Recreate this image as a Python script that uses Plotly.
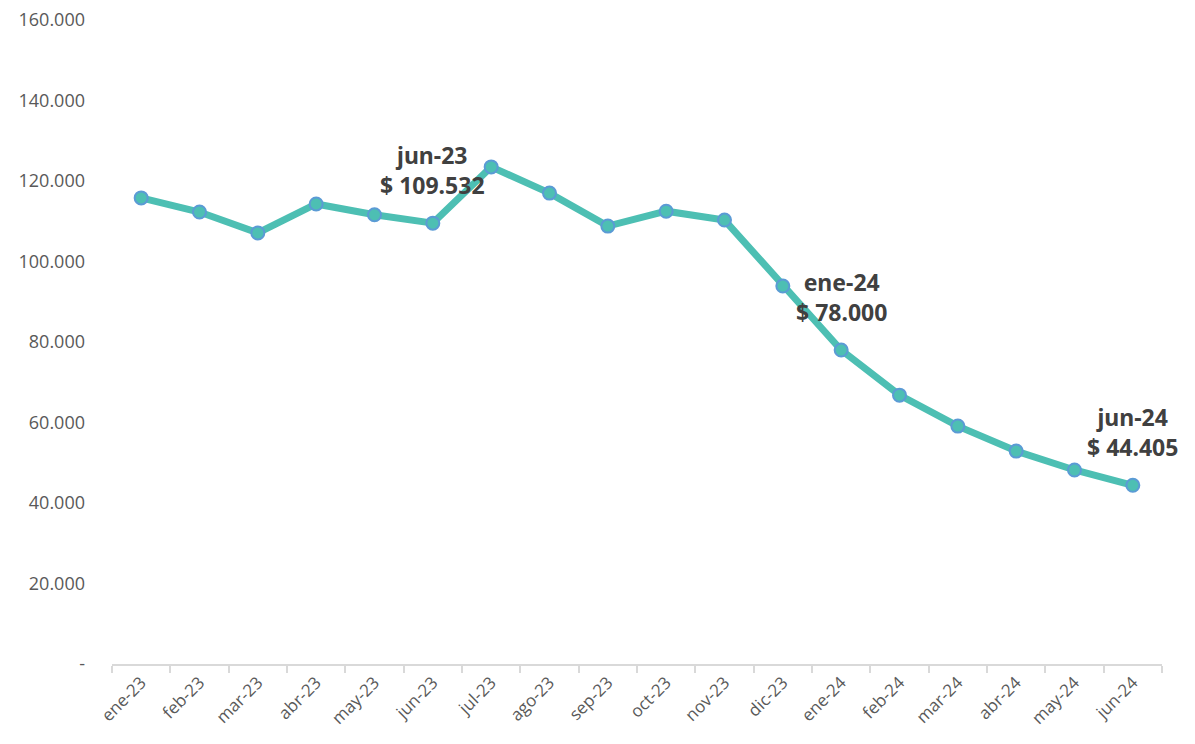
import plotly.graph_objects as go

months = ["ene-23", "feb-23", "mar-23", "abr-23", "may-23", "jun-23", "jul-23", "ago-23",
          "sep-23", "oct-23", "nov-23", "dic-23", "ene-24", "feb-24", "mar-24", "abr-24",
          "may-24", "jun-24"]
values = [115800, 112300, 107100, 114300, 111600, 109532, 123500, 117000,
          108800, 112500, 110300, 93900, 78000, 66800, 59100, 52900,
          48200, 44405]
y_ticks = [0, 20000, 40000, 60000, 80000, 100000, 120000, 140000, 160000]
y_tick_text = ["-", "20.000", "40.000", "60.000", "80.000", "100.000", "120.000", "140.000", "160.000"]
labels = [("jun-23", 109532, "jun-23", "$ 109.532"),
          ("ene-24", 78000, "ene-24", "$ 78.000"),
          ("jun-24", 44405, "jun-24", "$ 44.405")]

fig = go.Figure()
fig.add_trace(go.Scatter(
    x=months, y=values, mode="lines+markers",
    line=dict(color="#4DBFB3", width=7),
    marker=dict(size=13, color="#4DBFB3", line=dict(color="#5B9BD5", width=2)),
    showlegend=False, hoverinfo="x+y",
))

for m, v, t1, t2 in labels:
    fig.add_annotation(x=m, y=v, text="<b>" + t1 + "</b><br><b>" + t2 + "</b>",
                       showarrow=False, yanchor="bottom", yshift=20,
                       font=dict(family="Noto Sans", size=23, color="#404040"),
                       align="center")

fig.update_layout(
    width=1195, height=744,
    margin=dict(l=104, r=41, t=12, b=88),
    plot_bgcolor="white", paper_bgcolor="white",
    font=dict(family="Open Sans", color="#595959"),
)

fig.update_xaxes(
    type="category", showgrid=False, showline=True, linecolor="#D9D9D9", linewidth=2,
    ticks="outside", tickson="boundaries", ticklen=7, tickcolor="#D9D9D9", tickwidth=2,
    tickangle=-45, tickfont=dict(size=17, color="#595959"), range=[-0.5, 17.5],
    automargin=False,
)
fig.update_yaxes(
    range=[0, 160000], tickvals=y_ticks, ticktext=y_tick_text, showgrid=False,
    showline=False, zeroline=False, tickfont=dict(size=18, color="#595959"),
    ticklabelstandoff=26, ticklabeloverflow="allow", automargin=False,
)

fig.write_html("out.html")
